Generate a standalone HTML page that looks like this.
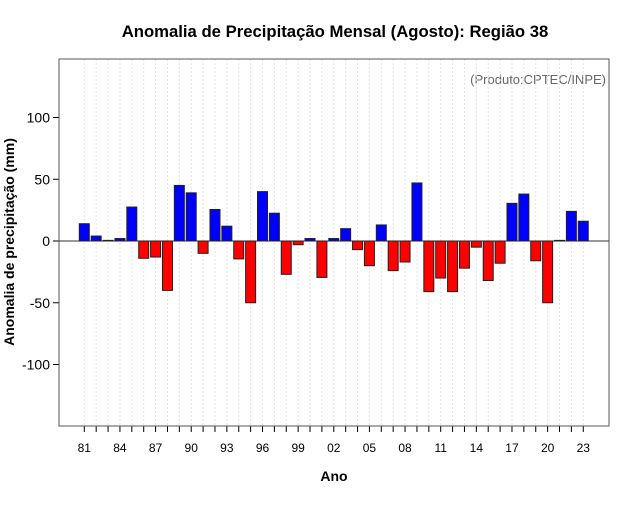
<!DOCTYPE html>
<html><head><meta charset="utf-8"><style>
body{margin:0;background:#fff;width:640px;height:500px;overflow:hidden;font-family:"Liberation Sans",sans-serif}
</style></head><body>
<svg id="chart" width="640" height="500" xmlns="http://www.w3.org/2000/svg" font-family="Liberation Sans, sans-serif">
<rect width="640" height="500" fill="#fff"/>
<text x="335" y="37" text-anchor="middle" font-size="16.7" font-weight="bold">Anomalia de Precipitação Mensal (Agosto): Região 38</text>
<text x="606" y="84" text-anchor="end" font-size="13" fill="#666">(Produto:CPTEC/INPE)</text>
<text x="334" y="481" text-anchor="middle" font-size="14" font-weight="bold">Ano</text>
<text transform="translate(14,242) rotate(-90)" text-anchor="middle" font-size="14" font-weight="bold">Anomalia de precipitação (mm)</text>
<g id="grid"></g><g id="bars"></g><g id="axes"></g>
<rect x="59" y="59" width="550" height="367" fill="none" stroke="#555" stroke-width="1"/>
</svg>
<script>
const years=[1981,1982,1983,1984,1985,1986,1987,1988,1989,1990,1991,1992,1993,1994,1995,1996,1997,1998,1999,2000,2001,2002,2003,2004,2005,2006,2007,2008,2009,2010,2011,2012,2013,2014,2015,2016,2017,2018,2019,2020,2021,2022,2023];
const anomalies=[14,4,0.5,2,27.5,-14,-13,-40,45,39,-10,25.5,12,-14.5,-50,40,22.5,-27,-3,2,-29.5,2,10,-7,-20,13,-24,-17,47,-41,-30,-41,-22,-5,-32,-18,30.5,38,-16,-50,0.5,24,16];
const yTicks=[-100,-50,0,50,100];
const NS='http://www.w3.org/2000/svg';
const x=i=>84.3+i*11.88;
const y=v=>241-v*1.235;
function mk(t,a,p){const e=document.createElementNS(NS,t);for(const k in a)e.setAttribute(k,a[k]);p.appendChild(e);return e;}
const grid=document.getElementById('grid'),bars=document.getElementById('bars'),axes=document.getElementById('axes');
years.forEach((yr,i)=>{
  const g=mk('line',{x1:x(i),x2:x(i),y1:59,y2:426,stroke:'#e2e2e2','stroke-dasharray':'2,2'},grid);
  
  
  const t=mk('line',{x1:x(i),x2:x(i),y1:426,y2:432,stroke:'#000'},axes);
  
  
  if(i%3===0){
    const l=mk('text',{x:x(i),y:452,'text-anchor':'middle','font-size':'12'},axes);
    l.textContent=String(yr).slice(2);
    
    
  }
});
const zl=mk('line',{x1:59,x2:609,y1:y(0),y2:y(0),stroke:'#333'},grid);


anomalies.forEach((v,i)=>{
  const top=Math.min(y(0),y(v)),h=Math.abs(y(v)-y(0));
  const r=mk('rect',{x:x(i)-5,y:top,width:10,height:Math.max(h,0.5),fill:v>=0?'#0000ff':'#ff0000',stroke:'#222','stroke-width':'1'},bars);
  
  
});
yTicks.forEach(v=>{
  const t=mk('line',{x1:53,x2:59,y1:y(v),y2:y(v),stroke:'#000'},axes);
  
  
  const l=mk('text',{x:50,y:y(v)+5,'text-anchor':'end','font-size':'14'},axes);
  l.textContent=v;
  
  
});
</script>
</body></html>
